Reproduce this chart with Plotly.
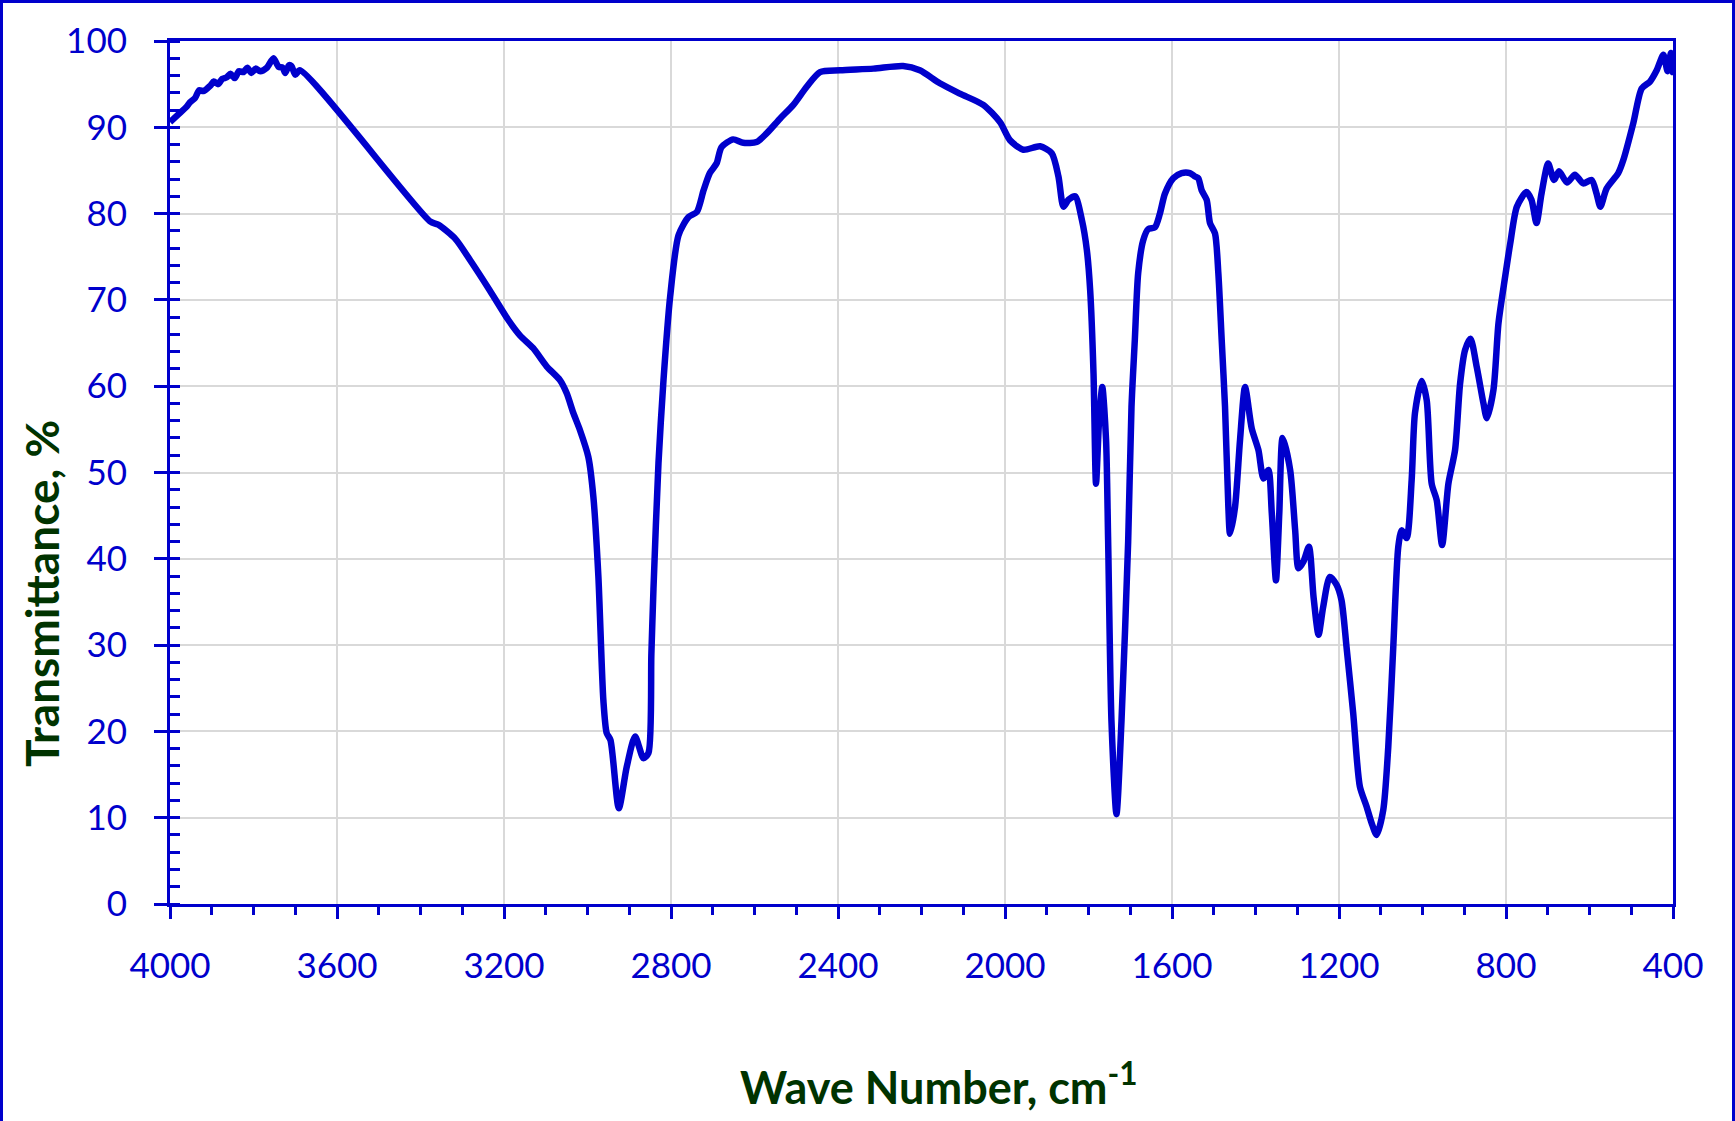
import plotly.graph_objects as go

# FTIR spectrum (wave number cm-1, transmittance %)
wave_number = [
    4000, 3980, 3960, 3952, 3940, 3930, 3920, 3904, 3895, 3885, 3875, 3864,
    3855, 3845, 3835, 3824, 3815, 3805, 3795, 3784, 3768, 3752, 3740, 3730,
    3724, 3715, 3709, 3700, 3689, 3377, 3357, 3317, 3281, 3234, 3190, 3162,
    3130, 3098, 3066, 3050, 3034, 3018, 2998, 2986, 2974, 2962, 2954, 2945,
    2925, 2906, 2886, 2866, 2854, 2847, 2842, 2830, 2818, 2802, 2782, 2758,
    2738, 2722, 2707, 2691, 2679, 2651, 2627, 2595, 2571, 2539, 2507, 2475,
    2443, 2395, 2315, 2244, 2204, 2156, 2108, 2052, 2012, 1988, 1956, 1916,
    1888, 1872, 1860, 1848, 1832, 1816, 1804, 1796, 1788, 1782, 1775, 1767,
    1758, 1753, 1745, 1733, 1721, 1705, 1697, 1689, 1681, 1669, 1657, 1641,
    1629, 1617, 1597, 1577, 1557, 1545, 1537, 1529, 1517, 1509, 1497, 1489,
    1481, 1473, 1465, 1461, 1449, 1437, 1425, 1409, 1393, 1381, 1369, 1361,
    1351, 1343, 1335, 1317, 1305, 1297, 1285, 1272, 1261, 1249, 1238, 1222,
    1206, 1194, 1182, 1166, 1150, 1134, 1122, 1110, 1094, 1082, 1070, 1058,
    1050, 1038, 1026, 1018, 1002, 990, 978, 966, 953, 938, 922, 910, 898,
    885, 870, 854, 846, 830, 818, 802, 790, 774, 751, 739, 727, 715, 699,
    685, 673, 654, 635, 615, 595, 583, 574, 559, 531, 519, 495, 475, 455,
    439, 423, 413, 405, 401, 400,
]
transmittance = [
    90.6, 91.5, 92.4, 92.9, 93.4, 94.3, 94.2, 94.8, 95.3, 95.0, 95.6, 95.8,
    96.2, 95.7, 96.5, 96.4, 96.9, 96.3, 96.8, 96.5, 96.9, 98.0, 97.0, 96.9,
    96.3, 97.2, 97.1, 96.1, 96.6, 79.1, 78.7, 77.1, 74.6, 71.1, 67.7, 65.9,
    64.4, 62.3, 60.7, 59.2, 56.9, 54.9, 51.8, 47.2, 38.0, 23.6, 19.8, 19.0,
    11.1, 15.9, 19.4, 16.9, 17.5, 29.0, 36.5, 51.1, 60.7, 70.4, 77.5, 79.6,
    80.2, 82.7, 84.7, 85.8, 87.7, 88.6, 88.2, 88.3, 89.3, 91.0, 92.6, 94.7,
    96.4, 96.6, 96.8, 97.1, 96.6, 95.1, 93.9, 92.6, 90.6, 88.5, 87.4, 87.8,
    87.0, 84.3, 80.8, 81.6, 82.0, 79.3, 75.8, 71.1, 61.5, 48.7, 55.7, 59.9,
    53.8, 42.2, 21.2, 10.4, 21.2, 42.0, 57.6, 65.4, 73.1, 76.9, 78.2, 78.4,
    80.0, 82.3, 84.1, 84.7, 84.7, 84.3, 84.1, 82.7, 81.6, 78.9, 77.7, 73.1,
    65.4, 57.6, 46.0, 42.9, 46.0, 53.8, 59.9, 55.1, 52.6, 49.3, 50.3, 45.3,
    37.5, 45.3, 54.0, 50.3, 43.3, 38.9, 39.7, 41.4, 35.6, 31.2, 34.4, 37.9,
    37.0, 35.2, 29.8, 22.1, 13.6, 11.3, 9.4, 8.0, 10.9, 18.2, 29.8, 41.4,
    43.3, 42.4, 49.1, 56.9, 60.6, 58.4, 48.7, 46.8, 41.6, 48.7, 52.6, 60.3, 64.2,
    65.5, 62.2, 58.0, 56.3, 59.6, 67.3, 72.7, 76.5, 80.8, 82.5, 81.6, 78.9, 82.3, 85.8,
    83.9, 84.9, 83.6, 84.5, 83.5, 83.9, 82.3, 80.8, 82.9, 84.7, 86.2, 90.5, 94.5, 95.3,
    96.6, 98.4, 96.5, 98.6, 96.4, 98.9,
]

x_ticks = [4000, 3600, 3200, 2800, 2400, 2000, 1600, 1200, 800, 400]
y_ticks = [0, 10, 20, 30, 40, 50, 60, 70, 80, 90, 100]

BLUE = '#0000CC'
GREEN = '#003300'
W, H = 1735, 1121
ML, MR, MT, MB = 170, 62, 41, 217
pw, ph = W - ML - MR, H - MT - MB

fig = go.Figure()
fig.add_trace(go.Scatter(
    x=wave_number, y=transmittance, mode='lines',
    line=dict(color=BLUE, width=6.5, shape='spline', smoothing=0.7),
    showlegend=False, hoverinfo='skip',
))

tick_font = dict(family='Lato, sans-serif', size=35, color=BLUE)

fig.update_layout(
    width=W, height=H,
    margin=dict(l=ML, r=MR, t=MT, b=MB),
    plot_bgcolor='white', paper_bgcolor='white',
    xaxis=dict(
        range=[4000, 400], tickvals=x_ticks, ticks='outside', ticklen=12,
        tickwidth=3, tickcolor=BLUE, showline=True, linecolor=BLUE,
        linewidth=3, mirror=True, showgrid=True, gridcolor='#d9d9d9',
        gridwidth=2, zeroline=False, tickfont=tick_font,
        ticklabelstandoff=17,
        minor=dict(ticks='outside', ticklen=8, tickwidth=3,
                   tickcolor=BLUE, dtick=100, showgrid=False),
    ),
    yaxis=dict(
        range=[0, 100], tickvals=y_ticks, ticks='outside', ticklen=13,
        tickwidth=3, tickcolor=BLUE, showline=True, linecolor=BLUE,
        linewidth=3, mirror=True, showgrid=True, gridcolor='#d9d9d9',
        gridwidth=2, zeroline=False, tickfont=tick_font,
        ticklabelstandoff=20,
        minor=dict(ticks='inside', ticklen=10, tickwidth=3,
                   tickcolor=BLUE, dtick=2, showgrid=False),
    ),
    yaxis2=dict(
        range=[0, 100], overlaying='y', anchor='x', side='left',
        tickvals=y_ticks, ticks='inside', ticklen=13, tickwidth=3,
        tickcolor=BLUE, showticklabels=False, showgrid=False,
        showline=False, zeroline=False,
    ),
)

# axis titles
fig.add_annotation(
    text='Transmittance, %', textangle=-90, showarrow=False,
    xref='paper', yref='paper', x=(41 - ML) / pw, y=(H - MB - 594) / ph,
    xanchor='center', yanchor='middle',
    font=dict(family='Lato, sans-serif', size=46, color=GREEN, weight='bold'),
)
fig.add_annotation(
    text='Wave Number, cm<sup>-1</sup>', showarrow=False,
    xref='paper', yref='paper', x=(939 - ML) / pw, y=(H - MB - 1084) / ph,
    xanchor='center', yanchor='middle',
    font=dict(family='Lato, sans-serif', size=45, color=GREEN, weight='bold'),
)

# outer frame around the whole picture
fig.add_shape(
    type='rect', xref='paper', yref='paper',
    x0=(1.5 - ML) / pw, x1=(W - ML - 1.5) / pw,
    y0=(MB - H + 1.5) / ph, y1=(H - MB - 1.5) / ph,
    line=dict(color=BLUE, width=3), layer='above',
)

fig.write_html('out.html', config={'displayModeBar': False},
               post_script="document.body.style.margin='0';"
                           "document.body.style.overflow='hidden';")
